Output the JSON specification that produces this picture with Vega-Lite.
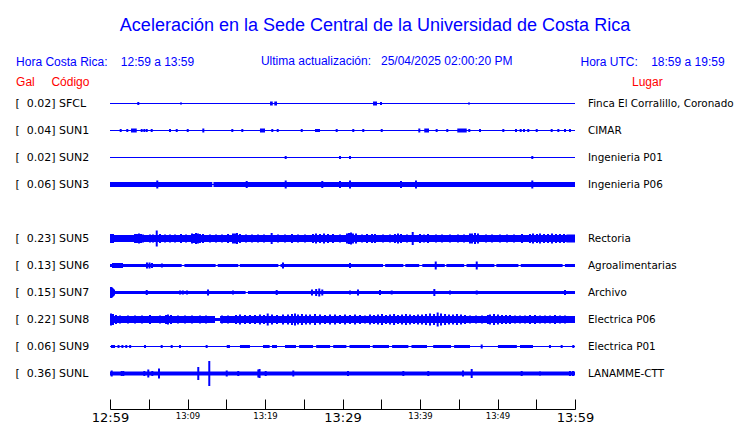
{
"$schema":"https://vega.github.io/schema/vega-lite/v6.json",
"autosize":{"type":"none"},
"width":465,"height":297,
"padding":{"left":110,"top":90,"right":165,"bottom":36},
"background":"#ffffff",
"config":{"view":{"stroke":null},"font":"DejaVu Sans"},
"title":{"text":"Aceleración en la Sede Central de la Universidad de Costa Rica","subtitle":"\u200c\u00a0\u00a0\u00a0\u00a0\u00a0\u00a0\u00a0Ultima actualización:\u00a0\u00a0\u00a025/04/2025 02:00:20 PM","font":"Liberation Sans","fontSize":18,"fontWeight":"normal","color":"#0000ff","subtitleFont":"Liberation Sans","subtitleFontSize":12,"subtitleColor":"#0000ff","anchor":"middle","frame":"group","dx":32.5,"offset":-12,"subtitlePadding":21},
"datasets":{
"seg":[
{"s":"SFCL","a":0,"b":60,"w":1},{"s":"SUN1","a":0,"b":60,"w":1},{"s":"SUN2","a":0,"b":60,"w":1},{"s":"SUN3","a":0,"b":60,"w":1},{"s":"SUN5","a":0,"b":60,"w":1},{"s":"SUN6","a":0,"b":60,"w":1},{"s":"SUN7","a":0,"b":60,"w":1},{"s":"SUN8","a":0,"b":60,"w":1},{"s":"SUN9","a":0,"b":60,"w":1},{"s":"SUNL","a":0,"b":60,"w":1},
{"s":"SFCL","a":20.65,"b":21.0,"w":4},{"s":"SFCL","a":21.2,"b":21.55,"w":4},{"s":"SFCL","a":33.94,"b":34.45,"w":4},{"s":"SFCL","a":34.84,"b":35.1,"w":3},
{"s":"SUN1","a":2.71,"b":3.45,"w":4},{"s":"SUN1","a":19.35,"b":20.0,"w":4},{"s":"SUN1","a":26.45,"b":27.1,"w":3},{"s":"SUN1","a":40.55,"b":41.16,"w":4},{"s":"SUN1","a":44.81,"b":46.03,"w":4},
{"s":"SUN3","a":0,"b":13.2,"w":5},{"s":"SUN3","a":13.35,"b":60,"w":5},
{"s":"SUN5","a":0,"b":60,"w":7},{"s":"SUN5","a":58.9,"b":60,"w":8},
{"s":"SUN6","a":0,"b":9.25,"w":3},{"s":"SUN6","a":0.26,"b":1.68,"w":5},{"s":"SUN6","a":9.6,"b":13.63,"w":3},{"s":"SUN6","a":13.9,"b":16.55,"w":3},{"s":"SUN6","a":16.75,"b":21.72,"w":3},{"s":"SUN6","a":22.0,"b":35.23,"w":3},{"s":"SUN6","a":35.5,"b":37.85,"w":3},{"s":"SUN6","a":38.1,"b":39.9,"w":3},{"s":"SUN6","a":40.3,"b":43.2,"w":3},{"s":"SUN6","a":43.4,"b":45.7,"w":3},{"s":"SUN6","a":46.0,"b":49.6,"w":3},{"s":"SUN6","a":49.85,"b":52.7,"w":3},{"s":"SUN6","a":53.0,"b":58.4,"w":3},{"s":"SUN6","a":58.7,"b":60,"w":3},
{"s":"SUN7","a":0,"b":17.5,"w":3},{"s":"SUN7","a":17.8,"b":60,"w":3},
{"s":"SUN8","a":0,"b":13.55,"w":7},{"s":"SUN8","a":13.55,"b":14.2,"w":3},{"s":"SUN8","a":14.2,"b":60,"w":7},{"s":"SUN8","a":58.8,"b":60,"w":7},
{"s":"SUN9","a":0.13,"b":0.65,"w":3},{"s":"SUN9","a":15.06,"b":15.48,"w":3},{"s":"SUN9","a":16.77,"b":18.06,"w":3},{"s":"SUN9","a":19.74,"b":20.6,"w":3},{"s":"SUN9","a":20.9,"b":21.55,"w":3},{"s":"SUN9","a":22.58,"b":24.0,"w":3},{"s":"SUN9","a":24.4,"b":26.2,"w":3},{"s":"SUN9","a":26.6,"b":28.4,"w":3},{"s":"SUN9","a":28.8,"b":30.5,"w":3},{"s":"SUN9","a":30.9,"b":33.55,"w":3},{"s":"SUN9","a":33.9,"b":36.0,"w":3},{"s":"SUN9","a":36.4,"b":38.5,"w":3},{"s":"SUN9","a":38.9,"b":40.9,"w":3},{"s":"SUN9","a":41.7,"b":44.0,"w":3},{"s":"SUN9","a":44.4,"b":46.45,"w":3},{"s":"SUN9","a":50.06,"b":52.5,"w":3},{"s":"SUN9","a":52.9,"b":54.58,"w":3},
{"s":"SUNL","a":0,"b":60,"w":4}
],
"spk":[
{"s":"SFCL","t":3.65,"h":3},{"s":"SFCL","t":9.16,"h":2},{"s":"SFCL","t":46.32,"h":2},
{"s":"SUN1","t":1.38,"h":3},{"s":"SUN1","t":2.23,"h":3},{"s":"SUN1","t":4.09,"h":3},{"s":"SUN1","t":4.43,"h":3},{"s":"SUN1","t":4.74,"h":3},{"s":"SUN1","t":5.38,"h":3},{"s":"SUN1","t":7.74,"h":3},{"s":"SUN1","t":8.61,"h":3},{"s":"SUN1","t":10.03,"h":3},{"s":"SUN1","t":12.04,"h":4},{"s":"SUN1","t":15.78,"h":3},{"s":"SUN1","t":17.07,"h":3},{"s":"SUN1","t":20.94,"h":3},{"s":"SUN1","t":21.64,"h":3},{"s":"SUN1","t":24.74,"h":3},{"s":"SUN1","t":29.25,"h":3},{"s":"SUN1","t":31.39,"h":3},{"s":"SUN1","t":32.68,"h":3},{"s":"SUN1","t":35.06,"h":3},{"s":"SUN1","t":39.91,"h":4},{"s":"SUN1","t":42.15,"h":3},{"s":"SUN1","t":43.52,"h":3},{"s":"SUN1","t":46.36,"h":3},{"s":"SUN1","t":47.74,"h":3},{"s":"SUN1","t":50.75,"h":3},{"s":"SUN1","t":52.39,"h":3},{"s":"SUN1","t":52.99,"h":3},{"s":"SUN1","t":53.42,"h":3},{"s":"SUN1","t":53.97,"h":3},{"s":"SUN1","t":55.06,"h":3},{"s":"SUN1","t":56.99,"h":3},{"s":"SUN1","t":57.85,"h":3},{"s":"SUN1","t":58.71,"h":3},{"s":"SUN1","t":59.35,"h":3},
{"s":"SUN2","t":22.67,"h":3},{"s":"SUN2","t":29.68,"h":3},{"s":"SUN2","t":30.97,"h":3},{"s":"SUN2","t":54.49,"h":3},
{"s":"SUN3","t":6.1,"h":8},{"s":"SUN3","t":17.64,"h":7},{"s":"SUN3","t":22.67,"h":8},{"s":"SUN3","t":27.39,"h":7},{"s":"SUN3","t":29.68,"h":7},{"s":"SUN3","t":30.97,"h":8},{"s":"SUN3","t":37.55,"h":7},{"s":"SUN3","t":39.48,"h":8},{"s":"SUN3","t":54.49,"h":8},
{"s":"SUN5","t":0.13,"h":9},{"s":"SUN5","t":0.39,"h":9},{"s":"SUN5","t":3.23,"h":9},{"s":"SUN5","t":3.48,"h":9},{"s":"SUN5","t":3.74,"h":10},{"s":"SUN5","t":4.0,"h":9},{"s":"SUN5","t":4.26,"h":8},{"s":"SUN5","t":5.16,"h":8},{"s":"SUN5","t":5.55,"h":8},{"s":"SUN5","t":6.03,"h":16},{"s":"SUN5","t":6.45,"h":9},{"s":"SUN5","t":7.1,"h":8},{"s":"SUN5","t":7.74,"h":8},{"s":"SUN5","t":8.39,"h":8},{"s":"SUN5","t":9.16,"h":9},{"s":"SUN5","t":9.81,"h":8},{"s":"SUN5","t":10.58,"h":10},{"s":"SUN5","t":10.84,"h":9},{"s":"SUN5","t":11.1,"h":11},{"s":"SUN5","t":11.35,"h":10},{"s":"SUN5","t":11.61,"h":9},{"s":"SUN5","t":12.0,"h":9},{"s":"SUN5","t":12.9,"h":8},{"s":"SUN5","t":13.68,"h":8},{"s":"SUN5","t":14.45,"h":8},{"s":"SUN5","t":15.23,"h":9},{"s":"SUN5","t":15.87,"h":10},{"s":"SUN5","t":16.13,"h":10},{"s":"SUN5","t":16.39,"h":11},{"s":"SUN5","t":16.77,"h":9},{"s":"SUN5","t":17.55,"h":8},{"s":"SUN5","t":18.32,"h":8},{"s":"SUN5","t":19.1,"h":8},{"s":"SUN5","t":19.87,"h":8},{"s":"SUN5","t":20.86,"h":11},{"s":"SUN5","t":21.68,"h":8},{"s":"SUN5","t":22.58,"h":8},{"s":"SUN5","t":23.48,"h":9},{"s":"SUN5","t":24.26,"h":8},{"s":"SUN5","t":25.16,"h":8},{"s":"SUN5","t":26.19,"h":9},{"s":"SUN5","t":26.58,"h":10},{"s":"SUN5","t":27.1,"h":9},{"s":"SUN5","t":27.61,"h":10},{"s":"SUN5","t":28.13,"h":9},{"s":"SUN5","t":28.77,"h":9},{"s":"SUN5","t":29.68,"h":8},{"s":"SUN5","t":30.58,"h":10},{"s":"SUN5","t":30.84,"h":11},{"s":"SUN5","t":31.1,"h":12},{"s":"SUN5","t":31.35,"h":10},{"s":"SUN5","t":31.74,"h":10},{"s":"SUN5","t":32.52,"h":8},{"s":"SUN5","t":33.16,"h":9},{"s":"SUN5","t":33.81,"h":9},{"s":"SUN5","t":34.19,"h":9},{"s":"SUN5","t":35.23,"h":8},{"s":"SUN5","t":36.13,"h":8},{"s":"SUN5","t":36.77,"h":9},{"s":"SUN5","t":37.16,"h":10},{"s":"SUN5","t":37.55,"h":9},{"s":"SUN5","t":38.32,"h":8},{"s":"SUN5","t":39.06,"h":13},{"s":"SUN5","t":40.0,"h":9},{"s":"SUN5","t":40.52,"h":8},{"s":"SUN5","t":41.03,"h":9},{"s":"SUN5","t":42.06,"h":8},{"s":"SUN5","t":42.84,"h":8},{"s":"SUN5","t":43.87,"h":8},{"s":"SUN5","t":44.9,"h":8},{"s":"SUN5","t":45.68,"h":8},{"s":"SUN5","t":46.45,"h":10},{"s":"SUN5","t":46.71,"h":10},{"s":"SUN5","t":47.1,"h":11},{"s":"SUN5","t":47.48,"h":10},{"s":"SUN5","t":48.52,"h":8},{"s":"SUN5","t":49.29,"h":8},{"s":"SUN5","t":50.32,"h":8},{"s":"SUN5","t":51.23,"h":8},{"s":"SUN5","t":52.13,"h":8},{"s":"SUN5","t":53.16,"h":9},{"s":"SUN5","t":54.19,"h":9},{"s":"SUN5","t":54.58,"h":10},{"s":"SUN5","t":55.1,"h":9},{"s":"SUN5","t":55.48,"h":10},{"s":"SUN5","t":56.0,"h":9},{"s":"SUN5","t":56.52,"h":9},{"s":"SUN5","t":57.03,"h":10},{"s":"SUN5","t":57.55,"h":9},{"s":"SUN5","t":58.06,"h":9},{"s":"SUN5","t":58.58,"h":9},
{"s":"SUN6","t":4.77,"h":6},{"s":"SUN6","t":5.1,"h":6},{"s":"SUN6","t":5.42,"h":5},{"s":"SUN6","t":6.7,"h":4},{"s":"SUN6","t":22.32,"h":6},{"s":"SUN6","t":30.97,"h":5},{"s":"SUN6","t":42.03,"h":8},{"s":"SUN6","t":47.32,"h":8},
{"s":"SUN7","t":0.13,"h":11},{"s":"SUN7","t":0.26,"h":10},{"s":"SUN7","t":0.39,"h":8},{"s":"SUN7","t":0.52,"h":6},{"s":"SUN7","t":4.74,"h":5},{"s":"SUN7","t":9.03,"h":4},{"s":"SUN7","t":9.4,"h":4},{"s":"SUN7","t":9.94,"h":4},{"s":"SUN7","t":12.65,"h":6},{"s":"SUN7","t":15.87,"h":4},{"s":"SUN7","t":21.51,"h":5},{"s":"SUN7","t":26.06,"h":6},{"s":"SUN7","t":26.6,"h":7},{"s":"SUN7","t":27.0,"h":8},{"s":"SUN7","t":27.39,"h":6},{"s":"SUN7","t":30.97,"h":4},{"s":"SUN7","t":32.0,"h":6},{"s":"SUN7","t":34.84,"h":5},{"s":"SUN7","t":36.35,"h":4},{"s":"SUN7","t":41.85,"h":7},{"s":"SUN7","t":43.87,"h":4},{"s":"SUN7","t":47.32,"h":4},{"s":"SUN7","t":58.71,"h":5},
{"s":"SUN8","t":0.13,"h":12},{"s":"SUN8","t":0.39,"h":11},{"s":"SUN8","t":0.77,"h":9},{"s":"SUN8","t":1.29,"h":8},{"s":"SUN8","t":2.32,"h":8},{"s":"SUN8","t":3.23,"h":8},{"s":"SUN8","t":4.13,"h":8},{"s":"SUN8","t":5.16,"h":9},{"s":"SUN8","t":6.45,"h":8},{"s":"SUN8","t":7.23,"h":9},{"s":"SUN8","t":7.48,"h":10},{"s":"SUN8","t":7.87,"h":9},{"s":"SUN8","t":8.77,"h":8},{"s":"SUN8","t":9.68,"h":8},{"s":"SUN8","t":10.58,"h":8},{"s":"SUN8","t":11.61,"h":8},{"s":"SUN8","t":12.39,"h":8},{"s":"SUN8","t":14.45,"h":8},{"s":"SUN8","t":15.23,"h":8},{"s":"SUN8","t":16.26,"h":9},{"s":"SUN8","t":16.77,"h":10},{"s":"SUN8","t":17.42,"h":9},{"s":"SUN8","t":18.06,"h":9},{"s":"SUN8","t":18.71,"h":9},{"s":"SUN8","t":19.35,"h":10},{"s":"SUN8","t":19.87,"h":9},{"s":"SUN8","t":20.35,"h":12},{"s":"SUN8","t":20.9,"h":10},{"s":"SUN8","t":21.55,"h":9},{"s":"SUN8","t":22.32,"h":10},{"s":"SUN8","t":22.97,"h":10},{"s":"SUN8","t":23.48,"h":11},{"s":"SUN8","t":23.87,"h":12},{"s":"SUN8","t":24.26,"h":10},{"s":"SUN8","t":24.77,"h":11},{"s":"SUN8","t":25.29,"h":10},{"s":"SUN8","t":25.81,"h":10},{"s":"SUN8","t":26.45,"h":11},{"s":"SUN8","t":27.1,"h":10},{"s":"SUN8","t":27.74,"h":9},{"s":"SUN8","t":28.39,"h":10},{"s":"SUN8","t":29.03,"h":10},{"s":"SUN8","t":29.68,"h":9},{"s":"SUN8","t":30.32,"h":10},{"s":"SUN8","t":30.97,"h":9},{"s":"SUN8","t":31.61,"h":10},{"s":"SUN8","t":32.26,"h":9},{"s":"SUN8","t":32.9,"h":8},{"s":"SUN8","t":33.55,"h":10},{"s":"SUN8","t":34.06,"h":9},{"s":"SUN8","t":34.58,"h":10},{"s":"SUN8","t":35.1,"h":11},{"s":"SUN8","t":35.61,"h":9},{"s":"SUN8","t":36.13,"h":10},{"s":"SUN8","t":36.65,"h":11},{"s":"SUN8","t":37.16,"h":9},{"s":"SUN8","t":37.68,"h":10},{"s":"SUN8","t":38.19,"h":11},{"s":"SUN8","t":38.71,"h":10},{"s":"SUN8","t":39.23,"h":9},{"s":"SUN8","t":39.74,"h":10},{"s":"SUN8","t":40.26,"h":10},{"s":"SUN8","t":40.77,"h":11},{"s":"SUN8","t":41.29,"h":12},{"s":"SUN8","t":41.81,"h":11},{"s":"SUN8","t":42.28,"h":14},{"s":"SUN8","t":42.71,"h":12},{"s":"SUN8","t":43.23,"h":11},{"s":"SUN8","t":43.74,"h":10},{"s":"SUN8","t":44.26,"h":10},{"s":"SUN8","t":44.77,"h":11},{"s":"SUN8","t":45.29,"h":10},{"s":"SUN8","t":45.81,"h":9},{"s":"SUN8","t":46.45,"h":8},{"s":"SUN8","t":47.23,"h":8},{"s":"SUN8","t":48.0,"h":8},{"s":"SUN8","t":48.77,"h":9},{"s":"SUN8","t":49.03,"h":10},{"s":"SUN8","t":49.55,"h":11},{"s":"SUN8","t":50.06,"h":10},{"s":"SUN8","t":50.58,"h":9},{"s":"SUN8","t":51.1,"h":9},{"s":"SUN8","t":51.61,"h":9},{"s":"SUN8","t":52.26,"h":8},{"s":"SUN8","t":52.9,"h":8},{"s":"SUN8","t":53.55,"h":8},{"s":"SUN8","t":54.19,"h":9},{"s":"SUN8","t":54.84,"h":9},{"s":"SUN8","t":55.48,"h":8},{"s":"SUN8","t":56.13,"h":8},{"s":"SUN8","t":56.77,"h":8},{"s":"SUN8","t":57.42,"h":9},{"s":"SUN8","t":58.06,"h":8},{"s":"SUN8","t":58.71,"h":8},
{"s":"SUN9","t":1.1,"h":3},{"s":"SUN9","t":1.6,"h":3},{"s":"SUN9","t":2.1,"h":3},{"s":"SUN9","t":2.6,"h":3},{"s":"SUN9","t":4.52,"h":3},{"s":"SUN9","t":6.67,"h":3},{"s":"SUN9","t":7.96,"h":3},{"s":"SUN9","t":9.03,"h":3},{"s":"SUN9","t":12.47,"h":3},{"s":"SUN9","t":47.96,"h":4},{"s":"SUN9","t":56.77,"h":3},{"s":"SUN9","t":58.28,"h":3},{"s":"SUN9","t":59.78,"h":3},
{"s":"SUNL","t":0.22,"h":6},{"s":"SUNL","t":1.51,"h":5},{"s":"SUNL","t":1.72,"h":5},{"s":"SUNL","t":4.43,"h":5},{"s":"SUNL","t":4.94,"h":8},{"s":"SUNL","t":5.46,"h":5},{"s":"SUNL","t":6.32,"h":10},{"s":"SUNL","t":11.39,"h":13},{"s":"SUNL","t":12.81,"h":25},{"s":"SUNL","t":15.06,"h":6},{"s":"SUNL","t":16.55,"h":5},{"s":"SUNL","t":19.14,"h":8},{"s":"SUNL","t":19.3,"h":9},{"s":"SUNL","t":20.09,"h":5},{"s":"SUNL","t":23.65,"h":6},{"s":"SUNL","t":30.71,"h":5},{"s":"SUNL","t":37.85,"h":5},{"s":"SUNL","t":41.07,"h":5},{"s":"SUNL","t":45.55,"h":6},{"s":"SUNL","t":46.67,"h":9},{"s":"SUNL","t":53.12,"h":5},{"s":"SUNL","t":55.48,"h":4},{"s":"SUNL","t":59.35,"h":5},{"s":"SUNL","t":59.74,"h":5}
]},
"layer":[
{"data":{"name":"seg"},
 "mark":{"type":"rule","color":"#0000ff","strokeCap":"butt"},
 "encoding":{
  "x":{"field":"a","type":"quantitative","scale":{"domain":[0,60],"nice":false,"zero":false},
   "axis":{"orient":"bottom","values":[0,5,10,15,20,25,30,35,40,45,50,55,60],"grid":false,"offset":22,"domainColor":"#000000","tickColor":"#000000","tickSize":-10,"labelPadding":12,"labelBaseline":"top","labelFlush":false,"labelOverlap":false,"labelFont":"DejaVu Sans","labelColor":"#000000","labelFontSize":{"expr":"datum.value % 30 == 0 ? 13 : 8.5"},
    "labelExpr":"datum.value % 10 ? '' : (datum.value == 0 ? '12:59' : '13:' + (datum.value < 11 ? '0' : '') + (datum.value - 1))",
    "title":"Hora Costa Rica:\u00a0\u00a0\u00a0\u00a012:59 a 13:59","titleX":-94.4,"titleY":-344,"titleAlign":"left","titleAnchor":null,"titleAngle":0,"titleBaseline":"alphabetic","titleFont":"Liberation Sans","titleFontSize":12,"titleFontWeight":"normal","titleColor":"#0000ff"}},
  "x2":{"field":"b"},
  "y":{"field":"s","type":"nominal","scale":{"type":"point","padding":0.5,"domain":["SFCL","SUN1","SUN2","SUN3","SUN4","SUN5","SUN6","SUN7","SUN8","SUN9","SUNL"]},
   "axis":{"orient":"left","ticks":false,"tickSize":0,"domain":false,"grid":false,"labelAlign":"left","labelPadding":95,"labelBaseline":"middle","labelFont":"DejaVu Sans","labelFontSize":11,"labelColor":"#000000",
    "labelExpr":"{'SFCL':'[\u00a0\u00a00.02]\u00a0SFCL','SUN1':'[\u00a0\u00a00.04]\u00a0SUN1','SUN2':'[\u00a0\u00a00.02]\u00a0SUN2','SUN3':'[\u00a0\u00a00.06]\u00a0SUN3','SUN4':'','SUN5':'[\u00a0\u00a00.23]\u00a0SUN5','SUN6':'[\u00a0\u00a00.13]\u00a0SUN6','SUN7':'[\u00a0\u00a00.15]\u00a0SUN7','SUN8':'[\u00a0\u00a00.22]\u00a0SUN8','SUN9':'[\u00a0\u00a00.06]\u00a0SUN9','SUNL':'[\u00a0\u00a00.36]\u00a0SUNL'}[datum.value]",
    "title":"Gal\u00a0\u00a0\u00a0\u00a0\u00a0Código","titleX":-94.4,"titleY":-5,"titleAlign":"left","titleAnchor":null,"titleAngle":0,"titleBaseline":"alphabetic","titleFont":"Liberation Sans","titleFontSize":12,"titleFontWeight":"normal","titleColor":"#ff0000"}},
  "strokeWidth":{"field":"w","type":"quantitative","scale":{"domain":[0,30],"range":[0,30],"zero":true},"legend":null}
 }},
{"data":{"name":"spk"},
 "mark":{"type":"tick","color":"#0000ff","thickness":2,"opacity":1},
 "encoding":{
  "x":{"field":"t","type":"quantitative",
   "axis":{"orient":"top","labels":false,"ticks":false,"domain":false,"grid":false,"offset":0,
    "title":"Hora UTC:\u00a0\u00a0\u00a0\u00a018:59 a 19:59","titleX":470,"titleY":-25,"titleAlign":"left","titleAnchor":null,"titleAngle":0,"titleBaseline":"alphabetic","titleFont":"Liberation Sans","titleFontSize":12,"titleFontWeight":"normal","titleColor":"#0000ff"}},
  "y":{"field":"s","type":"nominal",
   "axis":{"orient":"right","ticks":false,"tickSize":0,"domain":false,"grid":false,"labelAlign":"left","labelPadding":12.5,"labelBaseline":"middle","labelFont":"DejaVu Sans","labelFontSize":10.4,"labelColor":"#000000",
    "labelExpr":"{'SFCL':'Finca El Corralillo, Coronado','SUN1':'CIMAR','SUN2':'Ingenieria P01','SUN3':'Ingenieria P06','SUN4':'','SUN5':'Rectoria','SUN6':'Agroalimentarias','SUN7':'Archivo','SUN8':'Electrica P06','SUN9':'Electrica P01','SUNL':'LANAMME-CTT'}[datum.value]",
    "title":"Lugar","titleX":56.5,"titleY":-5,"titleAlign":"left","titleAnchor":null,"titleAngle":0,"titleBaseline":"alphabetic","titleFont":"Liberation Sans","titleFontSize":12,"titleFontWeight":"normal","titleColor":"#ff0000"}},
  "size":{"field":"h","type":"quantitative","scale":{"domain":[0,30],"range":[0,30],"zero":true},"legend":null}
 }}
],
"resolve":{"axis":{"x":"independent","y":"independent"}}
}
